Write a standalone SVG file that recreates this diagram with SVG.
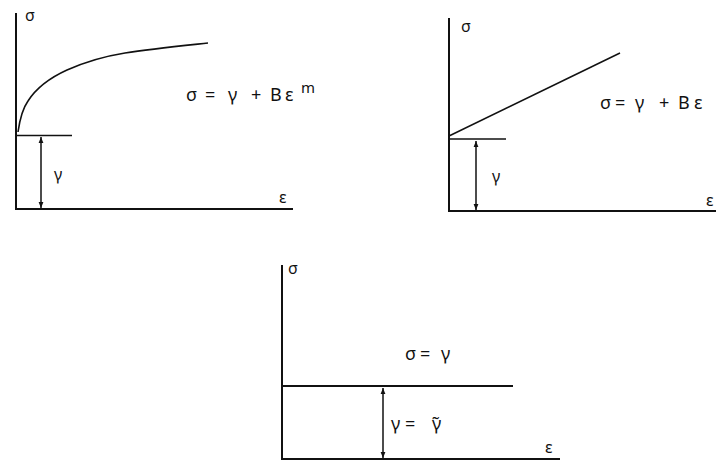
<svg xmlns="http://www.w3.org/2000/svg" width="716" height="460" viewBox="0 0 716 460">
<defs>
<marker id="ah" viewBox="0 0 10 10" refX="10" refY="5" markerWidth="6" markerHeight="6" orient="auto-start-reverse" markerUnits="userSpaceOnUse">
<path d="M0,1 L10,5 L0,9 Z" fill="#111"/>
</marker>
<style>
.ax{stroke:#111;stroke-width:2;fill:none}
.ln{stroke:#111;stroke-width:1.6;fill:none}
.dim{stroke:#111;stroke-width:1.5;fill:none;marker-start:url(#ah);marker-end:url(#ah)}
.t{font-family:"Noto Sans","DejaVu Sans",sans-serif;font-size:16px;fill:#111}
.f{font-family:"Noto Sans","DejaVu Sans",sans-serif;font-size:18px;fill:#111}
</style>
</defs>
<rect width="716" height="460" fill="#fff"/>
<g id="panel1">
<path class="ax" d="M16,13 V209 H293"/>
<path class="ln" d="M16,135.5 H72"/>
<path class="ln" d="M18,132 C20,118 23,108 28,101 C35,90 45,80 67,70 C85,62 100,57 125,53 C150,49 180,46 208,43"/>
<line class="dim" x1="41" y1="137" x2="41" y2="208"/>
<text class="t" x="25" y="21">σ</text>
<text class="t" x="54" y="180">γ</text>
<text class="t" x="279" y="203">ε</text>
<text class="f" y="101"><tspan x="186">σ</tspan><tspan x="205">=</tspan><tspan x="228">γ</tspan><tspan x="251">+</tspan><tspan x="270">B</tspan><tspan x="285">ε</tspan><tspan x="301" y="93" font-size="15">m</tspan></text>
</g>
<g id="panel2">
<path class="ax" d="M449,18 V211 H716"/>
<path class="ln" d="M449,139 H506"/>
<path class="ln" d="M449,136 L620,53"/>
<line class="dim" x1="476" y1="141" x2="476" y2="210"/>
<text class="t" x="461" y="32">σ</text>
<text class="t" x="492" y="182">γ</text>
<text class="t" x="706" y="206">ε</text>
<text class="f" y="109"><tspan x="600">σ</tspan><tspan x="615">=</tspan><tspan x="635">γ</tspan><tspan x="659">+</tspan><tspan x="678">B</tspan><tspan x="694">ε</tspan></text>
</g>
<g id="panel3">
<path class="ax" d="M282,265 V459 H560"/>
<path class="ax" d="M282,386 H513"/>
<line class="dim" x1="383" y1="388" x2="383" y2="458"/>
<text class="t" x="288" y="274">σ</text>
<text class="t" x="545" y="453">ε</text>
<text class="f" y="360"><tspan x="405">σ</tspan><tspan x="420">=</tspan><tspan x="441">γ</tspan></text>
<text class="f" y="430"><tspan x="391">γ</tspan><tspan x="405">=</tspan><tspan x="432">γ̃</tspan></text>
</g>
</svg>
